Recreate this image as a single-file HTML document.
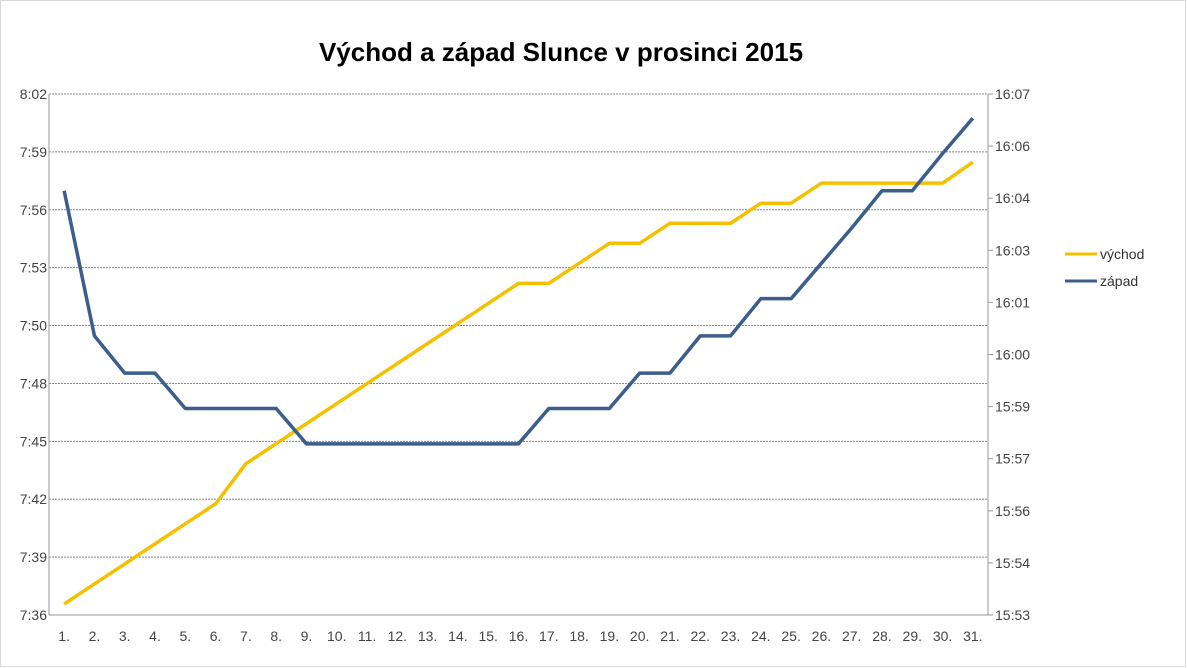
<!DOCTYPE html>
<html><head><meta charset="utf-8"><style>
body{margin:0;background:#fff;font-family:"Liberation Sans",sans-serif}
#c{position:absolute;left:0;top:0;width:1187px;height:668px}
</style></head><body>
<svg id="c" width="1187" height="668" xmlns="http://www.w3.org/2000/svg">
<rect x="0.5" y="0.5" width="1185" height="666" fill="#fff" stroke="#d9d9d9"/>
<text x="561" y="61" text-anchor="middle" font-size="26" font-weight="bold" fill="#000" font-family="Liberation Sans, sans-serif">Východ a západ Slunce v prosinci 2015</text>
<g id="grid"></g><g id="lines"></g><g id="labels"></g>
<g>
<line x1="1065" y1="254" x2="1097" y2="254" stroke="#f5c000" stroke-width="3"/>
<text x="1100" y="259" font-size="14" fill="#333">východ</text>
<line x1="1065" y1="281" x2="1097" y2="281" stroke="#3b5e8c" stroke-width="3"/>
<text x="1100" y="286" font-size="14" fill="#333">západ</text>
</g>
</svg>
<script>
const days=[1,2,3,4,5,6,7,8,9,10,11,12,13,14,15,16,17,18,19,20,21,22,23,24,25,26,27,28,29,30,31];
// minutes after 7:36
const sunrise=[0.55,1.55,2.55,3.55,4.55,5.55,7.55,8.55,9.55,10.55,11.55,12.55,13.55,14.55,15.55,16.55,16.55,17.55,18.55,18.55,19.55,19.55,19.55,20.55,20.55,21.55,21.55,21.55,21.55,21.55,22.6];
// minutes after 15:53
const sunset=[11.4,7.5,6.5,6.5,5.55,5.55,5.55,5.55,4.6,4.6,4.6,4.6,4.6,4.6,4.6,4.6,5.55,5.55,5.55,6.5,6.5,7.5,7.5,8.5,8.5,9.45,10.4,11.4,11.4,12.4,13.35];
const leftTicks=["8:02","7:59","7:56","7:53","7:50","7:48","7:45","7:42","7:39","7:36"];
const rightTicks=["16:07","16:06","16:04","16:03","16:01","16:00","15:59","15:57","15:56","15:54","15:53"];
const L=49,R=988,T=94,B=615;
const leftRange=26,rightRange=14;
const x=i=>L+(R-L)/days.length*(i+0.5);
const yL=v=>B-v/leftRange*(B-T);
const yR=v=>B-v/rightRange*(B-T);
const NS="http://www.w3.org/2000/svg";
function mk(tag,attrs,parent){const e=document.createElementNS(NS,tag);for(const k in attrs)e.setAttribute(k,attrs[k]);document.getElementById(parent).appendChild(e);return e;}
for(let i=0;i<leftTicks.length;i++){const y=T+(B-T)*i/(leftTicks.length-1);
 const g=mk("line",{x1:L,x2:R,y1:y,y2:y,stroke:i==9?"#999":"#888","stroke-dasharray":i==9?"":"2,1","stroke-width":1},"grid");
 
 
 const t=mk("text",{x:47,y:y+5,"text-anchor":"end","font-size":14,fill:"#444"},"labels");t.textContent=leftTicks[i];
 
 
}
for(let i=0;i<rightTicks.length;i++){const y=T+(B-T)*i/(rightTicks.length-1);
 const tk=mk("line",{x1:R,x2:R+5,y1:y,y2:y,stroke:"#999"},"grid");
 
 
 const t2=mk("text",{x:995,y:y+5,"font-size":14,fill:"#444"},"labels");t2.textContent=rightTicks[i];
 
 
}
const la=mk("line",{x1:L,x2:L,y1:T,y2:B,stroke:"#999"},"grid");


const ra=mk("line",{x1:R,x2:R,y1:T,y2:B,stroke:"#999"},"grid");


days.forEach((d,i)=>{const t=mk("text",{x:x(i),y:641,"text-anchor":"middle","font-size":14,fill:"#444"},"labels");t.textContent=d+".";
 
 });
const p1=mk("polyline",{points:sunrise.map((v,i)=>x(i)+","+yL(v)).join(" "),fill:"none",stroke:"#f5c000","stroke-width":3.5,"stroke-linejoin":"round"},"lines");


const p2=mk("polyline",{points:sunset.map((v,i)=>x(i)+","+yR(v)).join(" "),fill:"none",stroke:"#3b5e8c","stroke-width":3.5,"stroke-linejoin":"round"},"lines");


</script>
</body></html>
